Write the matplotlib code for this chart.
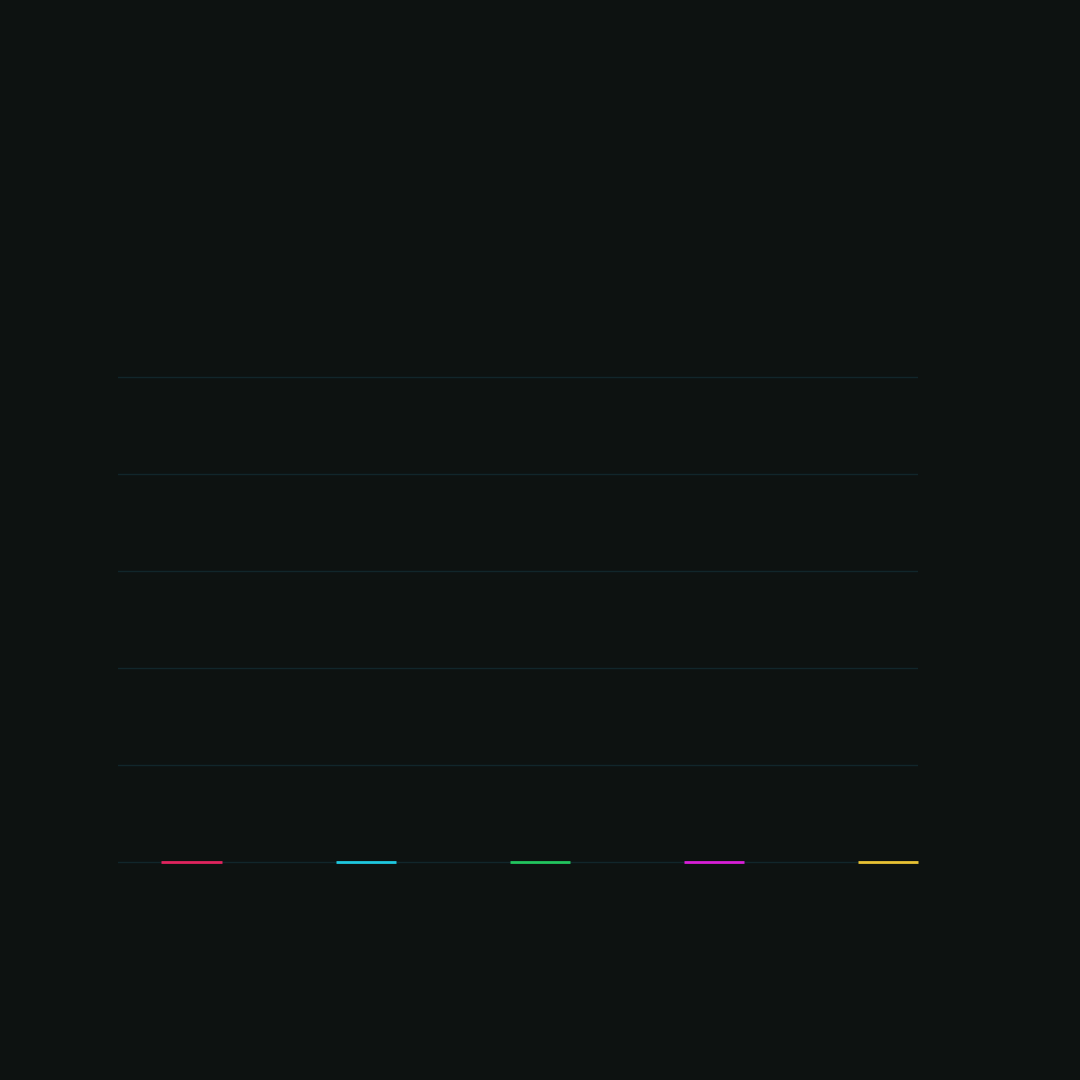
import matplotlib
matplotlib.use("Agg")
import matplotlib.pyplot as plt

# five categories, all values at zero
categories = ["A", "B", "C", "D", "E"]
values = [0, 0, 0, 0, 0]
colors = ["#e0245e", "#1ec8e0", "#22c55e", "#d81fd8", "#e8c234"]
y_ticks = [0, 1, 2, 3, 4, 5]

bg = "#0d1211"
grid_col = "#11262b"
bar_w = 0.345

fig = plt.figure(figsize=(10.8, 10.8), dpi=100, facecolor=bg)
ax = fig.add_axes([118 / 1080, 216 / 1080, 800 / 1080, 488 / 1080])
ax.set_facecolor(bg)

x = list(range(len(categories)))
ax.bar(x, values, width=bar_w, color=colors, linewidth=0, zorder=3)
# top edge of each bar (zero height, so only the cap is visible)
ax.hlines(values, [i - bar_w / 2 for i in x], [i + bar_w / 2 for i in x],
          colors=colors, linewidth=2, zorder=4, clip_on=False)

ax.set_xlim(-0.422, 4.172)
ax.set_ylim(-0.02, 5.01)
ax.set_yticks(y_ticks)
ax.set_xticks(x)
ax.grid(axis="y", color=grid_col, linewidth=1)
ax.set_axisbelow(True)
ax.tick_params(length=0, labelleft=False, labelbottom=False)
for s in ax.spines.values():
    s.set_visible(False)

fig.savefig("out.png", dpi=100, facecolor=bg)
